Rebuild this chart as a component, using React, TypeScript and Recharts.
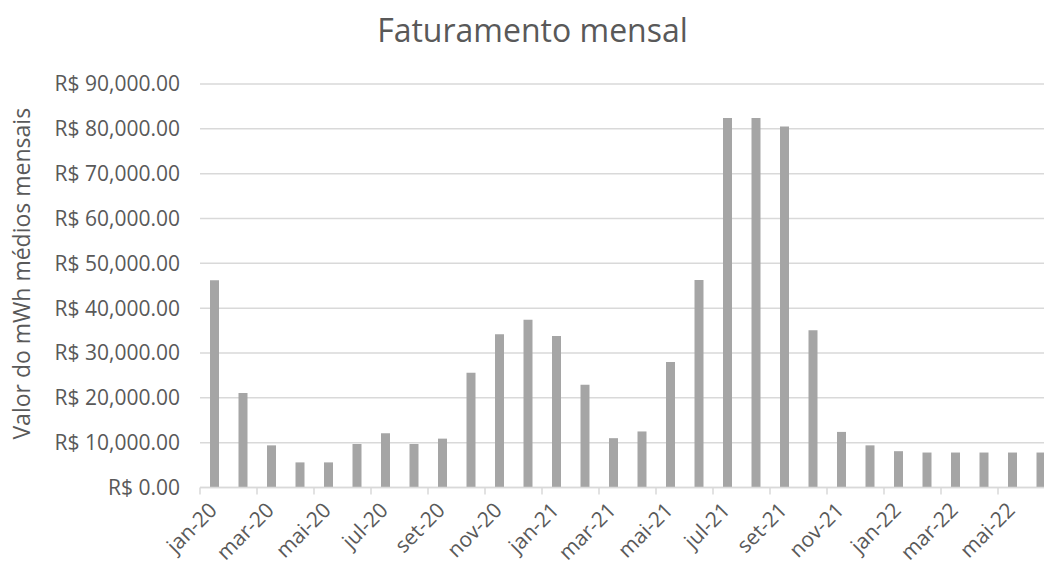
import React from 'react'
import { BarChart, Bar, XAxis, YAxis, CartesianGrid } from 'recharts'

const months = [
  'jan-20', 'fev-20', 'mar-20', 'abr-20', 'mai-20', 'jun-20', 'jul-20', 'ago-20', 'set-20', 'out-20', 'nov-20', 'dez-20',
  'jan-21', 'fev-21', 'mar-21', 'abr-21', 'mai-21', 'jun-21', 'jul-21', 'ago-21', 'set-21', 'out-21', 'nov-21', 'dez-21',
  'jan-22', 'fev-22', 'mar-22', 'abr-22', 'mai-22', 'jun-22',
]

const faturamento = [
  46200, 21100, 9400, 5600, 5600, 9700, 12100, 9700, 10900, 25600, 34200, 37400,
  33800, 22900, 11000, 12500, 28000, 46300, 82400, 82400, 80500, 35100, 12400, 9400,
  8100, 7800, 7800, 7800, 7800, 7800,
]

const yTicks = [0, 10000, 20000, 30000, 40000, 50000, 60000, 70000, 80000, 90000]

const data = months.map((m, i) => ({ mes: m, valor: faturamento[i] }))

const FONT = '"Open Sans", sans-serif'
const TEXT = '#595959'
const GRID = '#D9D9D9'

const fmtBRL = (v: number) =>
  'R$ ' + v.toLocaleString('en-US', { minimumFractionDigits: 2, maximumFractionDigits: 2 })

function MonthTick(props: any) {
  const { x, y, payload } = props
  const off = payload.offset ?? 0
  return (
    <g>
      <line x1={x - off} x2={x - off} y1={y} y2={y + 7} stroke={GRID} strokeWidth={1.5} />
      <text
        x={x + 4}
        y={y + 24}
        textAnchor="end"
        fill={TEXT}
        fontSize={21}
        fontFamily={FONT}
        transform={`rotate(-45, ${x + 4}, ${y + 24})`}
      >
        {payload.value}
      </text>
    </g>
  )
}

function YLabel(props: any) {
  const { viewBox } = props
  const cx = viewBox.x + 22
  const cy = viewBox.y + viewBox.height / 2 - 12
  return (
    <text
      x={cx}
      y={cy}
      textAnchor="middle"
      fill={TEXT}
      fontSize={23}
      fontFamily={FONT}
      transform={`rotate(-90, ${cx}, ${cy})`}
    >
      Valor do mWh médios mensais
    </text>
  )
}

export default function App() {
  // fixed frame the size of the window, so the chart can run past the right edge without scrollbars
  return (
    <div style={{ position: 'absolute', left: 0, top: 0, width: 1044, height: 564, overflow: 'hidden', background: '#fff' }}>
      <div
        style={{
          position: 'absolute', left: 0, top: 13.6, width: 1065, textAlign: 'center',
          fontFamily: FONT, fontSize: 32, lineHeight: '32px', color: TEXT,
        }}
      >
        Faturamento mensal
      </div>
      <div style={{ position: 'absolute', left: 8, top: 8, width: 1060, height: 556 }}>
        <BarChart
          width={1060}
          height={556}
          data={data}
          margin={{ top: 76, right: 13, bottom: 0, left: 0 }}
          barSize={9}
        >
          <CartesianGrid vertical={false} stroke={GRID} strokeWidth={1.5} />
          <XAxis
            dataKey="mes"
            interval={1}
            height={76.5}
            tickSize={0}
            tickMargin={0}
            tickLine={false}
            axisLine={{ stroke: GRID, strokeWidth: 1.5 }}
            tick={<MonthTick />}
          />
          <YAxis
            width={192}
            domain={[0, 90000]}
            ticks={yTicks}
            tickFormatter={fmtBRL}
            axisLine={false}
            tickLine={false}
            tickSize={6}
            tickMargin={14}
            tick={{ fill: TEXT, fontSize: 21, fontFamily: FONT }}
            label={<YLabel />}
          />
          <Bar dataKey="valor" fill="#A5A5A5" isAnimationActive={false} />
        </BarChart>
      </div>
    </div>
  )
}
